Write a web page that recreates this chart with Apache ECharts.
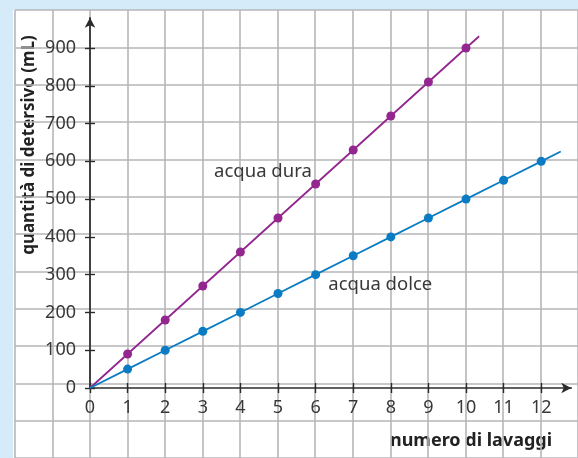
<!DOCTYPE html>
<html>
<head>
<meta charset="utf-8">
<script src="https://cdn.jsdelivr.net/npm/echarts@6/dist/echarts.min.js"></script>
<style>
  html, body { margin: 0; padding: 0; background: #d5ebf9; }
  #chart { width: 578px; height: 458px; }
</style>
</head>
<body>
<div id="chart"></div>
<script>
var lavaggi = [0, 1, 2, 3, 4, 5, 6, 7, 8, 9, 10, 11, 12];
var acquaDura = [0, 90, 180, 270, 360, 450, 540, 630, 720, 810, 900];
var acquaDolce = [0, 50, 100, 150, 200, 250, 300, 350, 400, 450, 500, 550, 600];
// the drawn lines run a little past the last dot
var fineDura = [10.35, 931];
var fineDolce = [12.52, 626];
var tacche = [0, 100, 200, 300, 400, 500, 600, 700, 800, 900];
var etichette = ['acqua dura', 'acqua dolce'];

var font = 'Noto Sans';
var testo = '#383838';
var griglia = '#b6b6ba';
var assi = '#2b2b2b';

function punti(valori, fine) {
    var data = [];
    for (var i = 0; i < valori.length; i++) {
        data.push({ value: [lavaggi[i], valori[i]], symbol: i === 0 ? 'none' : 'circle' });
    }
    data.push({ value: fine, symbol: 'none' });
    return data;
}

function serie(nome, valori, fine, colore, coord) {
    return {
        name: nome,
        type: 'line',
        xAxisIndex: 1,
        yAxisIndex: 1,
        data: punti(valori, fine),
        symbolSize: 9,
        lineStyle: { color: colore, width: 1.8 },
        itemStyle: { color: colore },
        z: 5,
        markPoint: {
            symbol: 'circle',
            symbolSize: 0,
            label: { show: true, position: 'inside', formatter: nome, color: testo, fontSize: 18.5, fontFamily: font },
            data: [{ coord: coord }]
        }
    };
}

var chart = echarts.init(document.getElementById('chart'));
chart.setOption({
    animation: false,
    graphic: [
        { type: 'rect', shape: { x: 13, y: 10, width: 570, height: 460 }, style: { fill: '#ffffff' }, z: -10 },
        { type: 'text', x: 29, y: 145, rotation: Math.PI / 2,
          style: { text: 'quantità di detersivo (mL)', font: 'bold 17px "Noto Sans"', fill: '#222', align: 'center', verticalAlign: 'middle' } },
        { type: 'text', x: 471, y: 441,
          style: { text: 'numero di lavaggi', font: 'bold 18px "Noto Sans"', fill: '#222', align: 'center', verticalAlign: 'middle' } }
    ],
    grid: [
        { left: 14.8, top: 10.2, width: 564, height: 453.4 },
        { left: 90, top: 17.76, width: 481.3, height: 370.24 }
    ],
    xAxis: [
        { gridIndex: 0, type: 'value', min: -2, max: 13, interval: 1,
          axisLine: { show: false }, axisTick: { show: false }, axisLabel: { show: false },
          splitLine: { lineStyle: { color: griglia, width: 1.6 } } },
        { gridIndex: 1, type: 'value', min: 0, max: 12.8,
          axisLine: { onZero: false, symbol: ['none', 'arrow'], symbolSize: [8, 10], lineStyle: { color: assi, width: 1.7 } },
          axisTick: { customValues: lavaggi, length: 5, lineStyle: { color: assi, width: 1.4 } },
          axisLabel: { customValues: lavaggi, margin: 11, color: testo, fontSize: 18, fontFamily: font },
          splitLine: { show: false } },
        { gridIndex: 1, type: 'value', min: 0, max: 12.8, position: 'bottom',
          axisLine: { show: false, onZero: false },
          axisTick: { customValues: lavaggi, inside: true, length: 5, lineStyle: { color: assi, width: 1.4 } },
          axisLabel: { show: false }, splitLine: { show: false } }
    ],
    yAxis: [
        { gridIndex: 0, type: 'value', min: -200, max: 1000, interval: 100,
          axisLine: { show: false }, axisTick: { show: false }, axisLabel: { show: false },
          splitLine: { lineStyle: { color: griglia, width: 1.6 } } },
        { gridIndex: 1, type: 'value', min: 0, max: 980,
          axisLine: { onZero: false, symbol: ['none', 'arrow'], symbolSize: [8, 10], lineStyle: { color: assi, width: 1.7 } },
          axisTick: { customValues: tacche, length: 5, lineStyle: { color: assi, width: 1.4 } },
          axisLabel: { customValues: tacche, margin: 14, color: testo, fontSize: 18, fontFamily: font },
          splitLine: { show: false } },
        { gridIndex: 1, type: 'value', min: 0, max: 980, position: 'left',
          axisLine: { show: false, onZero: false },
          axisTick: { customValues: tacche, inside: true, length: 5, lineStyle: { color: assi, width: 1.4 } },
          axisLabel: { show: false }, splitLine: { show: false } }
    ],
    series: [
        serie(etichette[0], acquaDura, fineDura, '#93278f', [4.6, 572]),
        serie(etichette[1], acquaDolce, fineDolce, '#0b7cc4', [7.72, 273])
    ]
});
</script>
</body>
</html>
